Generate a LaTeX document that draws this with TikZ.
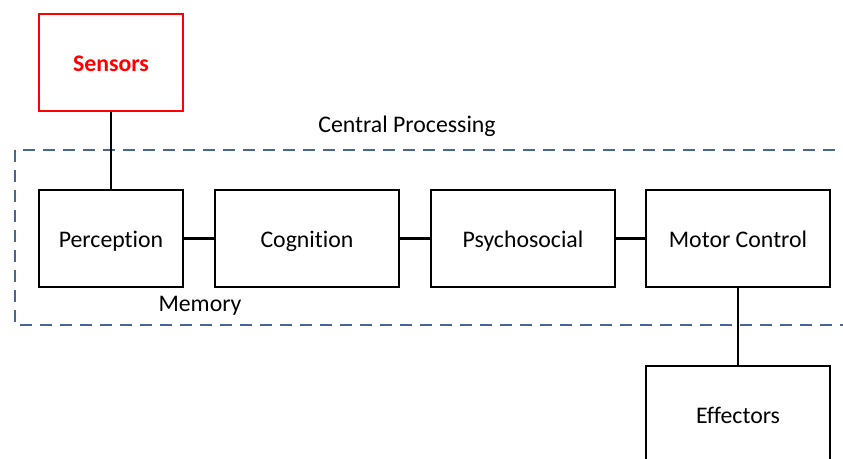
\documentclass[tikz,border=0pt]{standalone}
\usepackage{fontspec}
\setmainfont{Carlito}[Ligatures=NoCommon]
\usetikzlibrary{positioning}
\definecolor{sensorred}{RGB}{255,0,0}
\definecolor{areablue}{RGB}{72,102,145}

\begin{document}
\begin{tikzpicture}[
    x=1pt, y=-1pt,
    box/.style={draw, line width=2.7pt, minimum width=184pt, minimum height=97pt, inner sep=0pt, text height=17.5pt, text depth=0pt},
    link/.style={line width=2.7pt},
    every node/.style={font=\fontsize{23.8}{28}\selectfont},
]
    \clip (0,0) rectangle (843,458);

    % Central processing area
    \draw[areablue, line width=2.4pt, dash pattern=on 12pt off 8pt] (15,150) rectangle (870,325);
    \node (central) at (407,126) {Central Processing};
    \node (memory) at (200,306) {Memory};

    % Processing chain
    \node[box, minimum width=144pt] (perc) at (111,238.5) {Perception};
    \node[box, right=29.3pt of perc] (cogn) {Cognition};
    \node[box, right=29.3pt of cogn] (psych) {Psychosocial};
    \node[box, right=28.3pt of psych] (motor) {Motor Control};

    % Input and output
    \node[box, minimum width=144pt, draw=sensorred, text=sensorred, font=\fontsize{23.8}{28}\selectfont\bfseries] (sens) at (111,62.5) {Sensors};
    \node[box, below=76.3pt of motor] (effect) {Effectors};

    \draw[link] (sens) -- (perc);
    \draw[link] (perc) -- (cogn);
    \draw[link] (cogn) -- (psych);
    \draw[link] (psych) -- (motor);
    \draw[link] (motor) -- (effect);
\end{tikzpicture}
\end{document}
